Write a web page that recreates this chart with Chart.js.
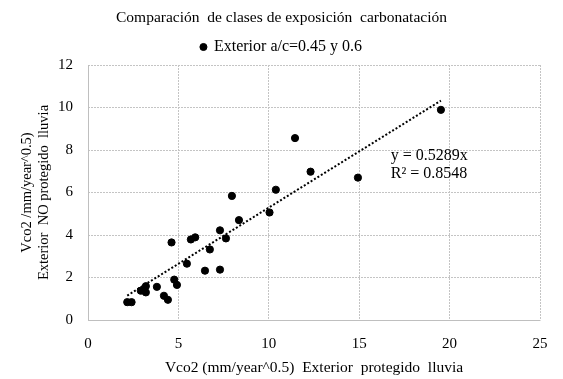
<!DOCTYPE html>
<html>
<head>
<meta charset="utf-8">
<script src="https://cdn.jsdelivr.net/npm/chart.js@4/dist/chart.umd.min.js"></script>
<style>
  html, body { margin: 0; padding: 0; background: #fff; }
  #wrap { width: 563px; height: 379px; position: relative; }
</style>
</head>
<body>
<div id="wrap"><canvas id="c" width="563" height="379"></canvas></div>
<script>
const TITLE = 'Comparación  de clases de exposición  carbonatación';
const SERIES_LABEL = 'Exterior a/c=0.45 y 0.6';
const X_TITLE = 'Vco2 (mm/year^0.5)  Exterior  protegido  lluvia';
const Y_TITLE = ['Vco2 /mm/year^0.5)', 'Exterior  NO protegido  lluvia'];

const xValues = [2.17, 2.41, 2.92, 3.20, 3.20, 3.81, 4.20, 4.42, 4.62, 4.77, 4.92, 5.47, 5.69, 5.93,
                 6.47, 6.74, 7.30, 7.30, 7.63, 7.96, 8.35, 10.04, 10.39, 11.45, 12.31, 14.93, 19.52];
const yValues = [0.84, 0.84, 1.38, 1.59, 1.30, 1.56, 1.14, 0.95, 3.65, 1.90, 1.65, 2.65, 3.79, 3.89,
                 2.32, 3.32, 4.22, 2.37, 3.84, 5.84, 4.70, 5.06, 6.13, 8.56, 6.98, 6.70, 9.89];

const TREND_SLOPE = 0.5289;
const TREND_R2 = 0.8548;
const TREND_TEXT = ['y = 0.5289x', 'R² = 0.8548'];
const TREND_LABEL_AT = { x: 16.75, y: 7.71 };

const xTicks = [0, 5, 10, 15, 20, 25];
const yTicks = [0, 2, 4, 6, 8, 10, 12];

const points = xValues.map((x, i) => ({ x: x, y: yValues[i] }));
const xMin = Math.min(...xValues), xMax = Math.max(...xValues);
const trend = [{ x: xMin, y: TREND_SLOPE * xMin }, { x: xMax, y: TREND_SLOPE * xMax }];

const FONT = 'Liberation Serif, Times New Roman, serif';

const trendLabel = {
  id: 'trendLabel',
  afterDatasetsDraw(chart) {
    const { ctx, scales } = chart;
    const px = scales.x.getPixelForValue(TREND_LABEL_AT.x);
    const py = scales.y.getPixelForValue(TREND_LABEL_AT.y);
    ctx.save();
    ctx.font = '16px ' + FONT;
    ctx.fillStyle = '#000';
    ctx.textAlign = 'left';
    ctx.textBaseline = 'middle';
    TREND_TEXT.forEach((t, i) => ctx.fillText(t, px, py + i * 18));
    ctx.restore();
  }
};

// solid axis lines along the left and bottom of the plot area
const solidAxes = {
  id: 'solidAxes',
  beforeDatasetsDraw(chart) {
    const { ctx, chartArea: a } = chart;
    const l = Math.round(a.left) + 0.5, b = Math.round(a.bottom) + 0.5;
    ctx.save();
    ctx.setLineDash([]);
    ctx.strokeStyle = '#bfbfbf';
    ctx.lineWidth = 1;
    ctx.beginPath();
    ctx.moveTo(l, Math.round(a.top));
    ctx.lineTo(l, b);
    ctx.lineTo(Math.round(a.right) + 0.5, b);
    ctx.stroke();
    ctx.restore();
  }
};

const gridStyle = {
  color: '#c4c4c4',
  lineWidth: 1,
  drawTicks: false
};

new Chart(document.getElementById('c'), {
  type: 'scatter',
  data: {
    datasets: [
      {
        label: SERIES_LABEL,
        data: points,
        backgroundColor: '#000',
        borderColor: '#000',
        pointRadius: 3.6,
        pointHoverRadius: 3.6,
        pointStyle: 'circle'
      },
      {
        label: 'trend',
        type: 'line',
        data: trend,
        borderColor: '#000',
        borderWidth: 2,
        borderDash: [2, 2],
        pointRadius: 0,
        fill: false
      }
    ]
  },
  options: {
    responsive: false,
    animation: false,
    devicePixelRatio: 1,
    layout: { padding: { top: 0, right: 0, bottom: 0, left: 0 } },
    plugins: {
      title: {
        display: true,
        text: TITLE,
        color: '#000',
        font: { family: FONT, size: 15.5, weight: 'normal', lineHeight: 1 },
        padding: { top: 10, bottom: 0.5 }
      },
      legend: {
        display: true,
        labels: {
          color: '#000',
          font: { family: FONT, size: 16 },
          usePointStyle: true,
          boxWidth: 5,
          boxHeight: 5,
          padding: 13,
          filter: (item) => item.datasetIndex === 0
        }
      },
      tooltip: { enabled: false }
    },
    scales: {
      x: {
        type: 'linear',
        min: 0, max: 25,
        afterBuildTicks: (s) => { s.ticks = xTicks.map(v => ({ value: v })); },
        afterFit: (s) => { s.height = 59; },
        grid: gridStyle,
        border: { display: false, dash: [2, 1] },
        ticks: { color: '#000', font: { family: FONT, size: 15 }, padding: 15, maxRotation: 0 },
        title: {
          display: true, text: X_TITLE, color: '#000',
          font: { family: FONT, size: 15.5 }, padding: { top: 0, bottom: 2 }
        }
      },
      y: {
        type: 'linear',
        min: 0, max: 12,
        afterBuildTicks: (s) => { s.ticks = yTicks.map(v => ({ value: v })); },
        afterFit: (s) => { s.width = 88; },
        grid: gridStyle,
        border: { display: false, dash: [2, 1] },
        ticks: { color: '#000', font: { family: FONT, size: 15 }, padding: 15 },
        title: {
          display: true, text: Y_TITLE, color: '#000',
          font: { family: FONT, size: 14.5 }, padding: { top: 18, bottom: 0 }
        }
      },
      yRight: {
        type: 'linear',
        position: 'right',
        min: 0, max: 12,
        afterFit: (s) => { s.width = 23; },
        grid: { display: false, drawTicks: false },
        border: { display: false },
        ticks: { display: false },
        title: { display: false }
      }
    }
  },
  plugins: [trendLabel, solidAxes]
});
</script>
</body>
</html>
